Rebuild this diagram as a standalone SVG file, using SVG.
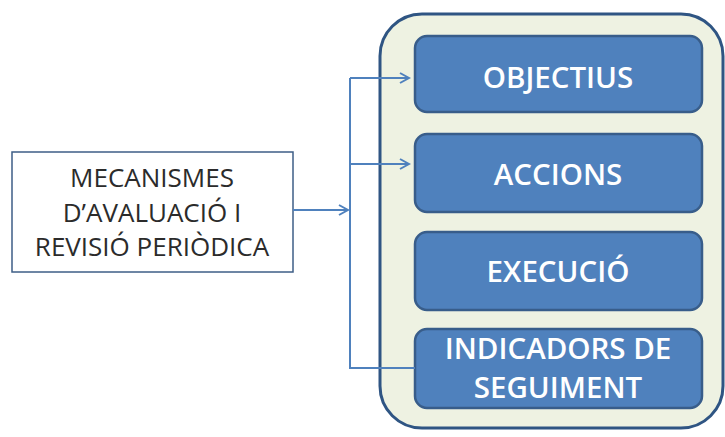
<svg xmlns="http://www.w3.org/2000/svg" width="725" height="437" viewBox="0 0 725 437">
<style>
.box{fill:#4F81BD;stroke:#385D8A;stroke-width:2.5}
.bt{fill:#fff;font-family:"Open Sans","Liberation Sans",sans-serif;font-size:29.5px;font-weight:600;text-anchor:middle}
.lt{fill:#2b2b2b;font-family:"Open Sans","Liberation Sans",sans-serif;font-size:26px;text-anchor:middle}
.c{fill:none;stroke:#4F81BD;stroke-width:2}
</style>
<defs>
<marker id="ah" markerWidth="12" markerHeight="12" refX="10" refY="6" orient="auto" markerUnits="userSpaceOnUse">
<path d="M1,1 L10,6 L1,11" fill="none" stroke="#4F81BD" stroke-width="2"/>
</marker>
</defs>
<g id="container">
<rect x="380" y="14" width="343" height="414" rx="42" fill="#EEF2E2" stroke="#2F5583" stroke-width="3"/>
</g>
<g id="mecanismes">
<rect x="12" y="152" width="281" height="120" fill="#fff" stroke="#3E5E86" stroke-width="1.5"/>
<text class="lt" x="152" y="187">MECANISMES</text>
<text class="lt" x="152" y="222">D’AVALUACIÓ I</text>
<text class="lt" x="152" y="256">REVISIÓ PERIÒDICA</text>
</g>
<g id="objectius">
<rect class="box" x="415" y="36" width="287" height="76" rx="12"/>
<text class="bt" x="558" y="88">OBJECTIUS</text>
</g>
<g id="accions">
<rect class="box" x="415" y="134" width="287" height="78" rx="12"/>
<text class="bt" x="558" y="185">ACCIONS</text>
</g>
<g id="execucio">
<rect class="box" x="415" y="232" width="287" height="78" rx="12"/>
<text class="bt" x="558" y="282">EXECUCIÓ</text>
</g>
<g id="indicadors">
<rect class="box" x="415" y="329" width="287" height="79" rx="12"/>
<text class="bt" x="558" y="359">INDICADORS DE</text>
<text class="bt" x="558" y="398">SEGUIMENT</text>
</g>
<g id="connectors">
<path class="c" d="M293,210 H348" marker-end="url(#ah)"/>
<path class="c" d="M350,78 V368 H415"/>
<path class="c" d="M350,78 H409" marker-end="url(#ah)"/>
<path class="c" d="M350,164 H409" marker-end="url(#ah)"/>
</g>
</svg>
